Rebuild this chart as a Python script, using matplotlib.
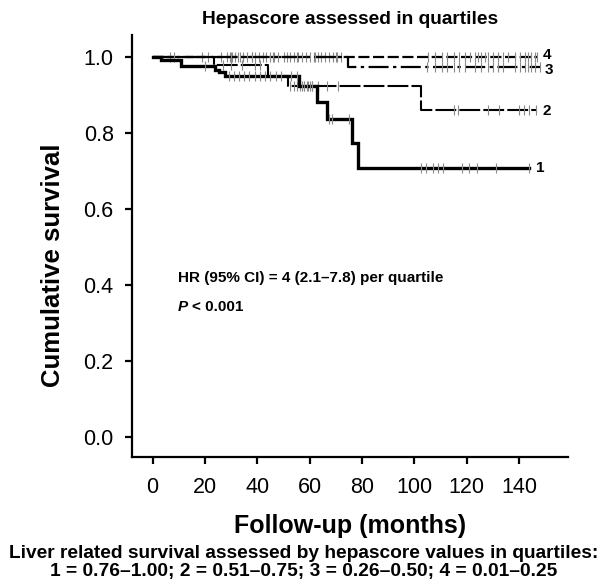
import matplotlib
matplotlib.use("Agg")
import matplotlib.pyplot as plt
import numpy as np

plt.rcParams['font.family'] = ['Liberation Sans', 'DejaVu Sans']

# ---- data: Kaplan-Meier steps (time in months, survival after step) ----
q1_times = [0, 3.2, 10.8, 23.7, 25.2, 27.5, 56.0, 62.7, 66.8, 76.3, 78.4, 144.0]
q1_surv  = [1.0, 0.990, 0.976, 0.965, 0.960, 0.950, 0.923, 0.882, 0.835, 0.774, 0.706, 0.706]
q2_times = [0, 23.5, 44.2, 51.6, 102.6, 147.0]
q2_surv  = [1.0, 0.978, 0.950, 0.923, 0.860, 0.860]
q3_times = [0, 74.8, 148.0]
q3_surv  = [1.0, 0.974, 0.974]
q4_times = [0, 147.0]
q4_surv  = [1.0, 1.0]

# censoring times
q1_cens = [20, 29, 31, 33, 35, 37, 39, 41, 43, 45, 47, 49, 53, 55, 57, 58, 59, 60, 61,
           67.5, 68.6, 75, 102.4, 104.3, 107, 109, 110.8, 118.4, 121, 124, 131.3, 144]
q2_cens = [26.7, 30, 34, 39, 41, 52.6, 54, 55, 56.5, 58, 59.5, 61, 63, 66.6, 71,
           115.3, 116.5, 128, 132.5, 140, 142, 144, 146.5]
q3_cens = [8, 21, 30, 38, 46, 55, 62, 70, 105, 108, 110.5, 112.4, 115, 117, 119.4, 123.2,
           125.6, 128.3, 130.1, 132, 134, 138.4, 140.3, 142.2, 143.5, 144.6, 146, 148]
q4_cens = [6.6, 19, 26.2, 28.5, 29.5, 30.5, 31.5, 32.5, 33.5, 34.5, 36, 37.8, 39, 40.5,
           42, 43.5, 45, 46.5, 48, 50.3, 51.4, 52.5, 54, 55.5, 57, 58.5, 60, 61.5, 63,
           64.5, 66, 67.5, 69, 70.5, 72, 105.4, 108, 110.5, 112.4, 115, 117, 119.4,
           121.3, 123.2, 124.5, 125.6, 127, 128.3, 130.1, 132, 134, 135.9, 138.4,
           140.3, 142.2, 143.5, 144.6, 146, 147]

labels = ['1', '2', '3', '4']
x_ticks = [0, 20, 40, 60, 80, 100, 120, 140]
y_ticks = [0.0, 0.2, 0.4, 0.6, 0.8, 1.0]

fig = plt.figure(figsize=(6.08, 5.86), dpi=100)
ax = fig.add_axes([0.2166, 0.2207, 0.9337 - 0.2166, 0.9403 - 0.2207])

def surv_at(times, surv, t):
    idx = np.searchsorted(times, t, side='right') - 1
    return surv[max(idx, 0)]

series = [
    (q4_times, q4_surv, q4_cens, dict(lw=1.6, ls=(0, (5, 1.6)))),
    (q3_times, q3_surv, q3_cens, dict(lw=1.6, ls=(0, (9, 2, 1.5, 2)))),
    (q2_times, q2_surv, q2_cens, dict(lw=1.5, ls=(0, (10, 1.5)))),
    (q1_times, q1_surv, q1_cens, dict(lw=2.4, ls='-')),
]
for times, surv, cens, st in series:
    ax.step(times, surv, where='post', color='black', solid_joinstyle='miter', **st)
    cy = [surv_at(times, surv, c) for c in cens]
    ax.plot(cens, cy, ls='none', marker='|', ms=7, mew=0.8, color='#8a8a8a')

# curve labels
label_pos = [(q1_times[-1], q1_surv[-1]), (q2_times[-1], q2_surv[-1]),
             (q3_times[-1], q3_surv[-1]), (q4_times[-1], q4_surv[-1])]
offs = [(2.5, 0), (2.0, -0.004), (2.0, -0.008), (2.0, 0.004)]
for lab, (tx, ty), (dx, dy) in zip(labels, label_pos, offs):
    ax.text(tx + dx, ty + dy, lab, fontsize=11, fontweight='bold', va='center', ha='left')

ax.text(9.7, 0.418, 'HR (95% CI) = 4 (2.1\u20137.8) per quartile', fontsize=11,
        fontweight='bold', va='center', ha='left')
ptxt = ax.text(9.7, 0.342, 'P', fontsize=11, fontweight='bold', fontstyle='italic',
               va='center', ha='left')
ax.annotate('< 0.001', xy=(1, 0.5), xycoords=ptxt, xytext=(3, 0),
            textcoords='offset points', fontsize=11, fontweight='bold',
            va='center', ha='left')

ax.set_xlim(-8, 158.6)
ax.set_ylim(-0.052, 1.057)
ax.set_xticks(x_ticks)
ax.set_yticks(y_ticks)
ax.set_xticklabels([str(v) for v in x_ticks])
ax.set_yticklabels([f'{v:.1f}' for v in y_ticks])
for s in ['top', 'right']:
    ax.spines[s].set_visible(False)
for s in ['left', 'bottom']:
    ax.spines[s].set_linewidth(1.6)
ax.tick_params(direction='out', length=5, width=1.6, labelsize=15.5)
ax.tick_params(axis='x', pad=9.5)
ax.tick_params(axis='y', pad=8)

ax.set_xlabel('Follow-up (months)', fontsize=18, fontweight='bold', labelpad=12)
ax.set_ylabel('Cumulative survival', fontsize=18.5, fontweight='bold')
ax.yaxis.set_label_coords(-0.152, 0.455)
ax.set_title('Hepascore assessed in quartiles', fontsize=13.8, fontweight='bold', pad=8)

fig.text(0.5, 0.056, 'Liver related survival assessed by hepascore values in quartiles:',
         ha='center', va='center', fontsize=13.8, fontweight='bold')
fig.text(0.5, 0.024, '1 = 0.76\u20131.00; 2 = 0.51\u20130.75; 3 = 0.26\u20130.50; 4 = 0.01\u20130.25',
         ha='center', va='center', fontsize=13.8, fontweight='bold')

fig.savefig('out.png', dpi=100)
